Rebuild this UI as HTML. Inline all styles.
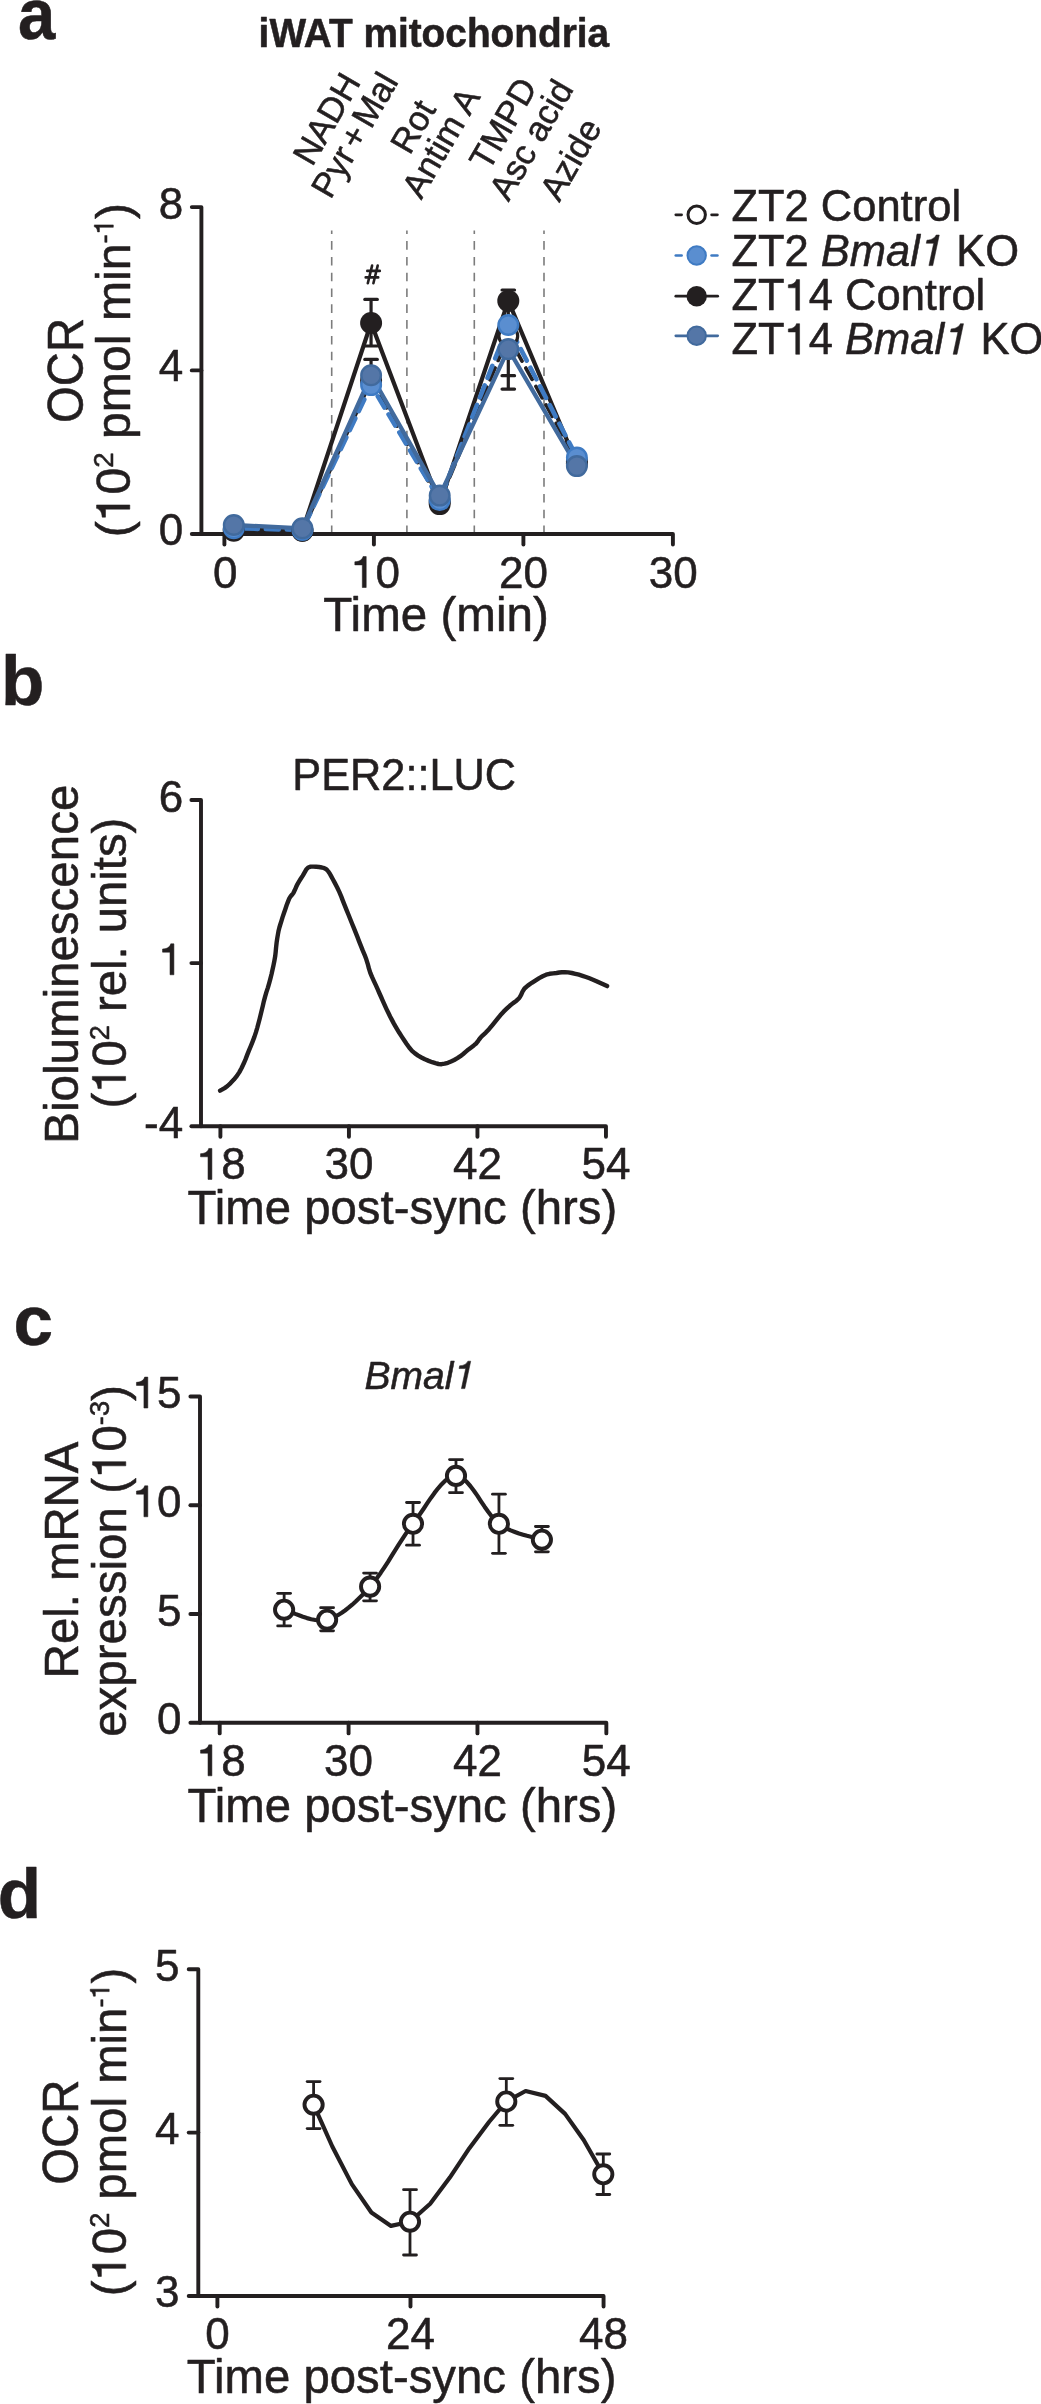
<!DOCTYPE html>
<html><head><meta charset="utf-8"><style>
html,body{margin:0;padding:0;background:#fff;}
svg{display:block;will-change:transform;}
text{font-family:"Liberation Sans",sans-serif;fill:#231f20;stroke:#231f20;stroke-width:0.55px;stroke-linejoin:round;}
.g1{fill-opacity:0;stroke-opacity:0;}
</style></head><body>
<svg width="1041" height="2404" viewBox="0 0 1041 2404">
<rect width="1041" height="2404" fill="#fff"/>
<text transform="translate(18.00,39.30) scale(0.944,1.015)" font-size="71" font-weight="bold">a</text>
<text transform="translate(258.60,46.90) scale(1,1.065)" font-size="38.5" font-weight="bold" textLength="350.5" lengthAdjust="spacingAndGlyphs">iWAT mitochondria</text>
<line x1="331.70" y1="230.40" x2="331.70" y2="533.00" stroke="#7c7c7c" stroke-width="1.6" stroke-dasharray="8.6 7.2" stroke-dashoffset="5.1"/>
<line x1="406.90" y1="230.40" x2="406.90" y2="533.00" stroke="#7c7c7c" stroke-width="1.6" stroke-dasharray="8.6 7.2" stroke-dashoffset="5.1"/>
<line x1="474.30" y1="230.40" x2="474.30" y2="533.00" stroke="#7c7c7c" stroke-width="1.6" stroke-dasharray="8.6 7.2" stroke-dashoffset="5.1"/>
<line x1="544.00" y1="230.40" x2="544.00" y2="533.00" stroke="#7c7c7c" stroke-width="1.6" stroke-dasharray="8.6 7.2" stroke-dashoffset="5.1"/>
<path d="M191.80,207.10 L201.40,207.10 L201.40,534.00 L672.90,534.00 L672.90,544.60" fill="none" stroke="#231f20" stroke-width="3.9" stroke-linejoin="round" stroke-linecap="round" />
<path d="M191.80,534.00 L201.40,534.00" fill="none" stroke="#231f20" stroke-width="3.9" stroke-linejoin="round" stroke-linecap="round" />
<path d="M191.80,370.40 L201.40,370.40" fill="none" stroke="#231f20" stroke-width="3.9" stroke-linejoin="round" stroke-linecap="round" />
<path d="M224.40,534.00 L224.40,544.60" fill="none" stroke="#231f20" stroke-width="3.9" stroke-linejoin="round" stroke-linecap="round" />
<path d="M373.90,534.00 L373.90,544.60" fill="none" stroke="#231f20" stroke-width="3.9" stroke-linejoin="round" stroke-linecap="round" />
<path d="M523.40,534.00 L523.40,544.60" fill="none" stroke="#231f20" stroke-width="3.9" stroke-linejoin="round" stroke-linecap="round" />
<text transform="translate(183.20,218.98)" font-size="44" text-anchor="end">8</text>
<text transform="translate(183.20,381.48)" font-size="44" text-anchor="end">4</text>
<text transform="translate(183.20,545.08)" font-size="44" text-anchor="end">0</text>
<text transform="translate(225.20,587.50)" font-size="44" text-anchor="middle">0</text>
<text transform="translate(375.50,587.50)" font-size="44" text-anchor="middle"><tspan class="g1">0</tspan>0</text>
<text transform="translate(523.40,587.50)" font-size="44" text-anchor="middle">20</text>
<text transform="translate(673.30,587.50)" font-size="44" text-anchor="middle">30</text>
<text transform="translate(323.30,630.90) scale(1,1.025)" font-size="47.6">Time (min)</text>
<text transform="translate(82.90,370.50) rotate(-90) scale(1,1.04)" font-size="47.3" text-anchor="middle">OCR</text>
<text transform="translate(129.80,370.10) rotate(-90)" font-size="47.3" text-anchor="middle" textLength="334.5" lengthAdjust="spacingAndGlyphs">(<tspan class="g1">0</tspan>0<tspan font-size="27" dy="-16.5">2</tspan><tspan dy="16.5"> pmol min</tspan><tspan font-size="27" dy="-16.5">-<tspan class="g1">0</tspan></tspan><tspan dy="16.5">)</tspan></text>
<text transform="translate(336.8,124.7) rotate(-60) scale(1,1.0)" font-size="34.8" text-anchor="middle"><tspan x="0" y="0.00">NADH</tspan><tspan x="0" y="32.30" word-spacing="-5.4">Pyr + Mal</tspan></text>
<text transform="translate(423.2,132.5) rotate(-60) scale(1,1.0)" font-size="34.8" text-anchor="middle"><tspan x="0" y="0.00">Rot</tspan><tspan x="0" y="32.30">Antim A</tspan></text>
<text transform="translate(513.5,129.5) rotate(-60) scale(1,1.0)" font-size="34.8" text-anchor="middle"><tspan x="0" y="0.00">TMPD</tspan><tspan x="0" y="32.30">Asc acid</tspan></text>
<text transform="translate(580.9,165.3) rotate(-60) scale(1,1.0)" font-size="34.8" text-anchor="middle"><tspan x="0" y="0.00">Azide</tspan></text>
<polyline points="233.8,529.9 302.4,530.7 371.1,323.0 439.7,504.1 508.3,300.9 576.9,463.7" fill="none" stroke="#231f20" stroke-width="4.2" stroke-linejoin="round" stroke-linecap="round" />
<polyline points="233.8,530.7 302.4,530.7 371.1,380.6 439.7,501.3 508.3,336.0 576.9,461.2" fill="none" stroke="#231f20" stroke-width="3.7" stroke-linejoin="round" stroke-linecap="round" stroke-dasharray="13 8" stroke-dashoffset="0" stroke-linecap="butt"/>
<polyline points="233.8,528.3 302.4,529.9 371.1,385.1 439.7,500.1 508.3,325.0 576.9,457.5" fill="none" stroke="#3f7bc3" stroke-width="4.6" stroke-linejoin="round" stroke-linecap="round" stroke-dasharray="13 8" stroke-dashoffset="10" stroke-linecap="butt"/>
<polyline points="233.8,525.0 302.4,528.3 371.1,375.3 439.7,495.6 508.3,349.1 576.9,466.1" fill="none" stroke="#416a9d" stroke-width="4.3" stroke-linejoin="round" stroke-linecap="round" />
<line x1="371.06" y1="299.40" x2="371.06" y2="346.00" stroke="#231f20" stroke-width="3.2" />
<line x1="364.81" y1="299.40" x2="377.31" y2="299.40" stroke="#231f20" stroke-width="3.2" stroke-linecap="round"/>
<line x1="364.81" y1="346.00" x2="377.31" y2="346.00" stroke="#231f20" stroke-width="3.2" stroke-linecap="round"/>
<line x1="508.30" y1="290.00" x2="508.30" y2="389.10" stroke="#231f20" stroke-width="3.2" />
<line x1="502.05" y1="290.00" x2="514.55" y2="290.00" stroke="#231f20" stroke-width="3.2" stroke-linecap="round"/>
<line x1="502.05" y1="389.10" x2="514.55" y2="389.10" stroke="#231f20" stroke-width="3.2" stroke-linecap="round"/>
<line x1="502.05" y1="375.70" x2="514.55" y2="375.70" stroke="#231f20" stroke-width="3.2" stroke-linecap="round"/>
<line x1="371.06" y1="359.40" x2="371.06" y2="375.00" stroke="#231f20" stroke-width="3.2" />
<line x1="364.81" y1="359.40" x2="377.31" y2="359.40" stroke="#231f20" stroke-width="3.2" stroke-linecap="round"/>
<line x1="364.81" y1="375.00" x2="377.31" y2="375.00" stroke="#231f20" stroke-width="3.2" stroke-linecap="round"/>
<circle cx="233.8" cy="530.7" r="9.4" fill="#fff" stroke="#231f20" stroke-width="3.2"/>
<circle cx="302.4" cy="530.7" r="9.4" fill="#fff" stroke="#231f20" stroke-width="3.2"/>
<circle cx="371.1" cy="380.6" r="9.4" fill="#fff" stroke="#231f20" stroke-width="3.2"/>
<circle cx="439.7" cy="501.3" r="9.4" fill="#fff" stroke="#231f20" stroke-width="3.2"/>
<circle cx="508.3" cy="336.0" r="9.4" fill="#fff" stroke="#231f20" stroke-width="3.2"/>
<circle cx="576.9" cy="461.2" r="9.4" fill="#fff" stroke="#231f20" stroke-width="3.2"/>
<circle cx="233.8" cy="529.9" r="11" fill="#231f20"/>
<circle cx="302.4" cy="530.7" r="11" fill="#231f20"/>
<circle cx="371.1" cy="323.0" r="11" fill="#231f20"/>
<circle cx="439.7" cy="504.1" r="11" fill="#231f20"/>
<circle cx="508.3" cy="300.9" r="11" fill="#231f20"/>
<circle cx="576.9" cy="463.7" r="11" fill="#231f20"/>
<circle cx="233.8" cy="528.3" r="9.8" fill="#5a8ed0" stroke="#3f7bc3" stroke-width="2.4"/>
<circle cx="302.4" cy="529.9" r="9.8" fill="#5a8ed0" stroke="#3f7bc3" stroke-width="2.4"/>
<circle cx="371.1" cy="385.1" r="9.8" fill="#5a8ed0" stroke="#3f7bc3" stroke-width="2.4"/>
<circle cx="439.7" cy="500.1" r="9.8" fill="#5a8ed0" stroke="#3f7bc3" stroke-width="2.4"/>
<circle cx="508.3" cy="325.0" r="9.8" fill="#5a8ed0" stroke="#3f7bc3" stroke-width="2.4"/>
<circle cx="576.9" cy="457.5" r="9.8" fill="#5a8ed0" stroke="#3f7bc3" stroke-width="2.4"/>
<circle cx="233.8" cy="525.0" r="9.8" fill="#5476a7" stroke="#416a9d" stroke-width="2.4"/>
<circle cx="302.4" cy="528.3" r="9.8" fill="#5476a7" stroke="#416a9d" stroke-width="2.4"/>
<circle cx="371.1" cy="375.3" r="9.8" fill="#5476a7" stroke="#416a9d" stroke-width="2.4"/>
<circle cx="439.7" cy="495.6" r="9.8" fill="#5476a7" stroke="#416a9d" stroke-width="2.4"/>
<circle cx="508.3" cy="349.1" r="9.8" fill="#5476a7" stroke="#416a9d" stroke-width="2.4"/>
<circle cx="576.9" cy="466.1" r="9.8" fill="#5476a7" stroke="#416a9d" stroke-width="2.4"/>
<path d="M372.1,265.6 L367.8,283.3 M377.7,265.6 L373.4,283.3 M367.3,270.9 L379.8,270.9 M365.7,277.4 L378.2,277.4" fill="none" stroke="#231f20" stroke-width="2.6" stroke-linejoin="round" stroke-linecap="round" stroke-linecap="butt"/>
<text transform="translate(731.40,221.40)" font-size="43.5">ZT2 Control</text>
<line x1="675.80" y1="214.80" x2="681.60" y2="214.80" stroke="#231f20" stroke-width="2.7" stroke-linecap="round"/>
<line x1="711.60" y1="214.80" x2="717.40" y2="214.80" stroke="#231f20" stroke-width="2.7" stroke-linecap="round"/>
<circle cx="696.7" cy="214.8" r="8.7" fill="#fff" stroke="#231f20" stroke-width="3"/>
<text transform="translate(731.40,265.60)" font-size="43.5">ZT2 <tspan font-style="italic">Bmal<tspan class="g1">0</tspan></tspan> KO</text>
<line x1="675.80" y1="255.50" x2="681.60" y2="255.50" stroke="#3f7bc3" stroke-width="2.7" stroke-linecap="round"/>
<line x1="711.60" y1="255.50" x2="717.40" y2="255.50" stroke="#3f7bc3" stroke-width="2.7" stroke-linecap="round"/>
<circle cx="696.7" cy="255.5" r="9.2" fill="#5a8ed0" stroke="#3f7bc3" stroke-width="2"/>
<text transform="translate(731.40,310.20)" font-size="43.5">ZT<tspan class="g1">0</tspan>4 Control</text>
<line x1="675.80" y1="296.20" x2="717.70" y2="296.20" stroke="#231f20" stroke-width="2.7" stroke-linecap="round"/>
<circle cx="696.7" cy="296.2" r="10.2" fill="#231f20"/>
<text transform="translate(731.40,354.30)" font-size="43.5">ZT<tspan class="g1">0</tspan>4 <tspan font-style="italic">Bmal<tspan class="g1">0</tspan></tspan> KO</text>
<line x1="675.80" y1="335.80" x2="717.70" y2="335.80" stroke="#416a9d" stroke-width="2.7" stroke-linecap="round"/>
<circle cx="696.7" cy="335.8" r="9.2" fill="#5476a7" stroke="#416a9d" stroke-width="2"/>
<text transform="translate(1.00,705.10)" font-size="71" font-weight="bold">b</text>
<path d="M191.40,800.00 L201.00,800.00 L201.00,1126.20 L605.96,1126.20 L605.96,1136.80" fill="none" stroke="#231f20" stroke-width="3.9" stroke-linejoin="round" stroke-linecap="round" />
<path d="M191.40,1126.20 L201.00,1126.20" fill="none" stroke="#231f20" stroke-width="3.9" stroke-linejoin="round" stroke-linecap="round" />
<path d="M191.40,963.10 L201.00,963.10" fill="none" stroke="#231f20" stroke-width="3.9" stroke-linejoin="round" stroke-linecap="round" />
<path d="M220.40,1126.20 L220.40,1136.80" fill="none" stroke="#231f20" stroke-width="3.9" stroke-linejoin="round" stroke-linecap="round" />
<path d="M348.92,1126.20 L348.92,1136.80" fill="none" stroke="#231f20" stroke-width="3.9" stroke-linejoin="round" stroke-linecap="round" />
<path d="M477.44,1126.20 L477.44,1136.80" fill="none" stroke="#231f20" stroke-width="3.9" stroke-linejoin="round" stroke-linecap="round" />
<text transform="translate(183.20,811.88)" font-size="44" text-anchor="end">6</text>
<text transform="translate(183.20,974.78)" font-size="44" text-anchor="end"><tspan class="g1">0</tspan></text>
<text transform="translate(183.20,1137.68)" font-size="44" text-anchor="end">-4</text>
<text transform="translate(221.20,1179.40)" font-size="44" text-anchor="middle"><tspan class="g1">0</tspan>8</text>
<text transform="translate(348.92,1179.40)" font-size="44" text-anchor="middle">30</text>
<text transform="translate(477.44,1179.40)" font-size="44" text-anchor="middle">42</text>
<text transform="translate(605.96,1179.40)" font-size="44" text-anchor="middle">54</text>
<text transform="translate(187.60,1224.20) scale(1,1.025)" font-size="47.35">Time post-sync (hrs)</text>
<text transform="translate(404.20,790.10) scale(1,1.03)" font-size="43.3" text-anchor="middle">PER2::LUC</text>
<text transform="translate(78.00,964.20) rotate(-90)" font-size="47.5" text-anchor="middle">Bioluminescence</text>
<text transform="translate(125.60,963.10) rotate(-90)" font-size="47.3" text-anchor="middle" textLength="290.7" lengthAdjust="spacingAndGlyphs">(<tspan class="g1">0</tspan>0<tspan font-size="27" dy="-16.5">2</tspan><tspan dy="16.5"> rel. units)</tspan></text>
<polyline points="220.1,1090.7 221.9,1089.7 224.6,1088.1 227.5,1086.0 230.6,1083.1 233.9,1079.6 236.9,1075.9 239.4,1072.1 241.6,1068.0 243.6,1063.8 245.5,1059.4 247.2,1054.9 249.0,1050.4 250.9,1045.9 252.7,1041.4 254.4,1036.9 255.9,1032.4 257.2,1028.0 258.4,1023.5 259.6,1019.0 260.7,1014.5 261.8,1010.0 262.9,1005.5 263.9,1001.1 265.1,996.6 266.4,992.1 267.9,987.6 269.2,983.1 270.4,978.6 271.5,974.2 272.5,969.7 273.5,965.2 274.4,960.7 275.2,956.2 275.7,951.7 276.1,947.2 276.6,942.8 277.2,938.6 277.9,934.5 278.6,930.7 279.4,927.5 280.3,924.5 281.3,921.3 282.5,917.4 283.9,913.2 285.3,909.2 286.6,905.3 288.0,901.6 289.3,898.4 290.7,896.3 292.0,894.8 293.4,893.0 294.7,890.3 296.0,887.3 297.4,884.3 299.1,881.4 300.9,878.5 302.8,875.6 304.5,872.6 306.2,869.6 308.2,867.5 310.7,866.6 313.4,866.6 316.2,866.8 319.0,867.0 321.9,867.5 324.3,868.2 325.9,869.0 327.1,870.0 328.3,871.5 329.7,873.5 331.0,875.9 332.7,879.0 334.8,882.9 337.2,887.5 339.4,892.1 341.3,896.6 343.0,901.1 344.8,905.6 346.6,910.1 348.4,914.5 350.2,919.0 352.0,923.5 353.8,927.9 355.6,932.4 357.4,936.9 359.1,941.4 360.9,945.9 362.7,950.4 364.6,954.8 366.3,959.3 367.7,963.8 368.9,968.4 370.3,972.8 372.0,976.9 373.8,980.9 375.7,984.9 377.5,988.9 379.3,993.0 381.1,997.0 382.9,1001.1 384.7,1005.2 386.5,1009.1 388.3,1012.8 390.1,1016.5 391.9,1019.9 393.6,1023.1 395.3,1026.1 397.2,1029.3 399.3,1032.8 401.6,1036.4 404.0,1040.0 406.5,1043.7 409.2,1047.5 412.0,1050.8 415.0,1053.4 418.1,1055.6 421.4,1057.5 424.9,1059.3 428.7,1060.9 432.2,1062.2 435.4,1063.2 438.5,1064.0 441.6,1064.2 444.7,1063.7 447.9,1062.8 451.0,1061.5 454.2,1060.0 457.4,1058.2 460.4,1056.2 463.2,1054.0 465.9,1051.7 468.5,1049.4 471.2,1047.4 473.8,1045.4 476.1,1043.5 477.6,1041.7 478.8,1039.9 480.4,1037.8 482.8,1035.3 485.8,1032.6 489.0,1029.2 492.6,1024.8 496.6,1019.8 500.3,1015.3 503.6,1011.7 506.7,1008.7 509.8,1005.8 513.1,1003.1 516.5,1000.7 519.3,998.0 521.1,994.9 522.5,991.6 524.5,988.5 527.8,985.6 531.8,982.8 535.7,980.3 539.2,978.1 542.7,976.2 546.1,974.7 549.6,973.8 553.2,973.4 556.5,973.0 559.3,972.5 561.9,972.2 564.8,972.1 568.2,972.4 571.8,973.0 575.4,973.8 578.9,974.7 582.5,975.8 586.0,977.0 589.5,978.3 593.0,979.7 596.5,981.2 600.4,983.0 604.3,984.8 607.1,986.1" fill="none" stroke="#231f20" stroke-width="4.4" stroke-linejoin="round" stroke-linecap="round" />
<text transform="translate(13.60,1345.30)" font-size="71" font-weight="bold">c</text>
<path d="M190.40,1396.55 L200.00,1396.55 L200.00,1722.80 L606.34,1722.80 L606.34,1733.40" fill="none" stroke="#231f20" stroke-width="3.9" stroke-linejoin="round" stroke-linecap="round" />
<path d="M190.40,1722.80 L200.00,1722.80" fill="none" stroke="#231f20" stroke-width="3.9" stroke-linejoin="round" stroke-linecap="round" />
<path d="M190.40,1505.30 L200.00,1505.30" fill="none" stroke="#231f20" stroke-width="3.9" stroke-linejoin="round" stroke-linecap="round" />
<path d="M190.40,1614.05 L200.00,1614.05" fill="none" stroke="#231f20" stroke-width="3.9" stroke-linejoin="round" stroke-linecap="round" />
<path d="M219.70,1722.80 L219.70,1733.40" fill="none" stroke="#231f20" stroke-width="3.9" stroke-linejoin="round" stroke-linecap="round" />
<path d="M348.58,1722.80 L348.58,1733.40" fill="none" stroke="#231f20" stroke-width="3.9" stroke-linejoin="round" stroke-linecap="round" />
<path d="M477.46,1722.80 L477.46,1733.40" fill="none" stroke="#231f20" stroke-width="3.9" stroke-linejoin="round" stroke-linecap="round" />
<text transform="translate(181.60,1408.03)" font-size="44" text-anchor="end"><tspan class="g1">0</tspan>5</text>
<text transform="translate(181.60,1516.78)" font-size="44" text-anchor="end"><tspan class="g1">0</tspan>0</text>
<text transform="translate(181.60,1625.53)" font-size="44" text-anchor="end">5</text>
<text transform="translate(181.60,1734.28)" font-size="44" text-anchor="end">0</text>
<text transform="translate(221.20,1775.80)" font-size="44" text-anchor="middle"><tspan class="g1">0</tspan>8</text>
<text transform="translate(348.58,1775.80)" font-size="44" text-anchor="middle">30</text>
<text transform="translate(477.46,1775.80)" font-size="44" text-anchor="middle">42</text>
<text transform="translate(606.34,1775.80)" font-size="44" text-anchor="middle">54</text>
<text transform="translate(187.60,1821.90) scale(1,1.025)" font-size="47.35">Time post-sync (hrs)</text>
<text transform="translate(364.50,1388.60)" font-size="39" font-style="italic">Bmal<tspan class="g1">0</tspan></text>
<text transform="translate(77.80,1559.90) rotate(-90)" font-size="47.3" text-anchor="middle">Rel. mRNA</text>
<text transform="translate(125.80,1561.00) rotate(-90)" font-size="47.3" text-anchor="middle" textLength="351.7" lengthAdjust="spacingAndGlyphs">expression (<tspan class="g1">0</tspan>0<tspan font-size="27" dy="-16.5">-3</tspan><tspan dy="16.5">)</tspan></text>
<polyline points="284.1,1609.7 286.2,1610.3 288.8,1611.3 291.9,1612.5 295.3,1613.9 299.0,1615.3 302.9,1616.8 307.0,1618.1 311.2,1619.2 315.4,1620.0 319.4,1620.4 323.4,1620.3 327.1,1619.7 330.7,1618.6 334.3,1617.0 337.8,1615.2 341.4,1613.0 345.0,1610.5 348.6,1607.7 352.2,1604.7 355.7,1601.5 359.3,1598.0 362.9,1594.4 366.5,1590.6 370.1,1586.6 373.6,1582.4 377.2,1577.7 380.8,1572.7 384.4,1567.3 388.0,1561.8 391.5,1556.1 395.1,1550.4 398.7,1544.7 402.3,1539.1 405.9,1533.7 409.4,1528.6 413.0,1523.8 416.6,1519.0 420.2,1513.8 423.8,1508.5 427.3,1503.2 430.9,1497.9 434.5,1492.9 438.1,1488.3 441.7,1484.2 445.2,1480.8 448.8,1478.2 452.4,1476.5 456.0,1475.9 459.6,1476.7 463.1,1478.7 466.7,1481.9 470.3,1486.0 473.9,1490.7 477.5,1495.9 481.0,1501.3 484.6,1506.7 488.2,1511.8 491.8,1516.6 495.4,1520.6 498.9,1523.8 502.7,1526.3 506.6,1528.5 510.7,1530.4 514.9,1532.0 519.0,1533.5 523.1,1534.7 527.0,1535.8 530.8,1536.7 534.2,1537.6 537.2,1538.3 539.8,1539.0 541.9,1539.7" fill="none" stroke="#231f20" stroke-width="4.2" stroke-linejoin="round" stroke-linecap="round" />
<line x1="284.14" y1="1593.30" x2="284.14" y2="1625.90" stroke="#231f20" stroke-width="2.8" />
<line x1="277.69" y1="1593.30" x2="290.59" y2="1593.30" stroke="#231f20" stroke-width="2.8" stroke-linecap="round"/>
<line x1="277.69" y1="1625.90" x2="290.59" y2="1625.90" stroke="#231f20" stroke-width="2.8" stroke-linecap="round"/>
<line x1="327.10" y1="1607.70" x2="327.10" y2="1630.80" stroke="#231f20" stroke-width="2.8" />
<line x1="320.65" y1="1607.70" x2="333.55" y2="1607.70" stroke="#231f20" stroke-width="2.8" stroke-linecap="round"/>
<line x1="320.65" y1="1630.80" x2="333.55" y2="1630.80" stroke="#231f20" stroke-width="2.8" stroke-linecap="round"/>
<line x1="370.06" y1="1573.10" x2="370.06" y2="1600.80" stroke="#231f20" stroke-width="2.8" />
<line x1="363.61" y1="1573.10" x2="376.51" y2="1573.10" stroke="#231f20" stroke-width="2.8" stroke-linecap="round"/>
<line x1="363.61" y1="1600.80" x2="376.51" y2="1600.80" stroke="#231f20" stroke-width="2.8" stroke-linecap="round"/>
<line x1="413.02" y1="1502.50" x2="413.02" y2="1545.20" stroke="#231f20" stroke-width="2.8" />
<line x1="406.57" y1="1502.50" x2="419.47" y2="1502.50" stroke="#231f20" stroke-width="2.8" stroke-linecap="round"/>
<line x1="406.57" y1="1545.20" x2="419.47" y2="1545.20" stroke="#231f20" stroke-width="2.8" stroke-linecap="round"/>
<line x1="455.98" y1="1459.60" x2="455.98" y2="1492.70" stroke="#231f20" stroke-width="2.8" />
<line x1="449.53" y1="1459.60" x2="462.43" y2="1459.60" stroke="#231f20" stroke-width="2.8" stroke-linecap="round"/>
<line x1="449.53" y1="1492.70" x2="462.43" y2="1492.70" stroke="#231f20" stroke-width="2.8" stroke-linecap="round"/>
<line x1="498.94" y1="1494.20" x2="498.94" y2="1553.30" stroke="#231f20" stroke-width="2.8" />
<line x1="492.49" y1="1494.20" x2="505.39" y2="1494.20" stroke="#231f20" stroke-width="2.8" stroke-linecap="round"/>
<line x1="492.49" y1="1553.30" x2="505.39" y2="1553.30" stroke="#231f20" stroke-width="2.8" stroke-linecap="round"/>
<line x1="541.90" y1="1526.50" x2="541.90" y2="1551.80" stroke="#231f20" stroke-width="2.8" />
<line x1="535.45" y1="1526.50" x2="548.35" y2="1526.50" stroke="#231f20" stroke-width="2.8" stroke-linecap="round"/>
<line x1="535.45" y1="1551.80" x2="548.35" y2="1551.80" stroke="#231f20" stroke-width="2.8" stroke-linecap="round"/>
<circle cx="284.1" cy="1609.7" r="9.1" fill="#fff" stroke="#231f20" stroke-width="3.9"/>
<circle cx="327.1" cy="1619.7" r="9.1" fill="#fff" stroke="#231f20" stroke-width="3.9"/>
<circle cx="370.1" cy="1586.6" r="9.1" fill="#fff" stroke="#231f20" stroke-width="3.9"/>
<circle cx="413.0" cy="1523.8" r="9.1" fill="#fff" stroke="#231f20" stroke-width="3.9"/>
<circle cx="456.0" cy="1475.9" r="9.1" fill="#fff" stroke="#231f20" stroke-width="3.9"/>
<circle cx="498.9" cy="1523.8" r="9.1" fill="#fff" stroke="#231f20" stroke-width="3.9"/>
<circle cx="541.9" cy="1539.7" r="9.1" fill="#fff" stroke="#231f20" stroke-width="3.9"/>
<text transform="translate(-2.20,1918.10)" font-size="71" font-weight="bold">d</text>
<path d="M188.70,1969.20 L198.30,1969.20 L198.30,2296.00 L603.56,2296.00 L603.56,2306.60" fill="none" stroke="#231f20" stroke-width="3.9" stroke-linejoin="round" stroke-linecap="round" />
<path d="M188.70,2296.00 L198.30,2296.00" fill="none" stroke="#231f20" stroke-width="3.9" stroke-linejoin="round" stroke-linecap="round" />
<path d="M188.70,2132.60 L198.30,2132.60" fill="none" stroke="#231f20" stroke-width="3.9" stroke-linejoin="round" stroke-linecap="round" />
<path d="M217.40,2296.00 L217.40,2306.60" fill="none" stroke="#231f20" stroke-width="3.9" stroke-linejoin="round" stroke-linecap="round" />
<path d="M410.48,2296.00 L410.48,2306.60" fill="none" stroke="#231f20" stroke-width="3.9" stroke-linejoin="round" stroke-linecap="round" />
<text transform="translate(179.60,1980.68)" font-size="44" text-anchor="end">5</text>
<text transform="translate(179.60,2144.08)" font-size="44" text-anchor="end">4</text>
<text transform="translate(179.60,2307.48)" font-size="44" text-anchor="end">3</text>
<text transform="translate(217.40,2348.80)" font-size="44" text-anchor="middle">0</text>
<text transform="translate(410.48,2348.80)" font-size="44" text-anchor="middle">24</text>
<text transform="translate(603.56,2348.80)" font-size="44" text-anchor="middle">48</text>
<text transform="translate(186.80,2392.70) scale(1,1.025)" font-size="47.35">Time post-sync (hrs)</text>
<text transform="translate(77.90,2132.20) rotate(-90) scale(1,1.04)" font-size="47.3" text-anchor="middle">OCR</text>
<text transform="translate(125.70,2132.00) rotate(-90)" font-size="47.3" text-anchor="middle" textLength="328.6" lengthAdjust="spacingAndGlyphs">(<tspan class="g1">0</tspan>0<tspan font-size="27" dy="-16.5">2</tspan><tspan dy="16.5"> pmol min</tspan><tspan font-size="27" dy="-16.5">-<tspan class="g1">0</tspan></tspan><tspan dy="16.5">)</tspan></text>
<polyline points="313.6,2104.7 332.3,2146.5 351.8,2184.1 371.4,2212.5 391.0,2225.9 410.0,2221.7 430.2,2203.7 449.8,2177.6 469.4,2148.2 489.0,2122.0 506.3,2101.5 525.6,2091.0 545.5,2095.9 565.1,2113.9 583.7,2140.0 603.3,2174.3" fill="none" stroke="#231f20" stroke-width="4.2" stroke-linejoin="round" stroke-linecap="round" />
<line x1="313.60" y1="2081.60" x2="313.60" y2="2128.60" stroke="#231f20" stroke-width="2.8" />
<line x1="307.15" y1="2081.60" x2="320.05" y2="2081.60" stroke="#231f20" stroke-width="2.8" stroke-linecap="round"/>
<line x1="307.15" y1="2128.60" x2="320.05" y2="2128.60" stroke="#231f20" stroke-width="2.8" stroke-linecap="round"/>
<line x1="410.00" y1="2189.70" x2="410.00" y2="2255.00" stroke="#231f20" stroke-width="2.8" />
<line x1="403.55" y1="2189.70" x2="416.45" y2="2189.70" stroke="#231f20" stroke-width="2.8" stroke-linecap="round"/>
<line x1="403.55" y1="2255.00" x2="416.45" y2="2255.00" stroke="#231f20" stroke-width="2.8" stroke-linecap="round"/>
<line x1="506.30" y1="2078.60" x2="506.30" y2="2125.30" stroke="#231f20" stroke-width="2.8" />
<line x1="499.85" y1="2078.60" x2="512.75" y2="2078.60" stroke="#231f20" stroke-width="2.8" stroke-linecap="round"/>
<line x1="499.85" y1="2125.30" x2="512.75" y2="2125.30" stroke="#231f20" stroke-width="2.8" stroke-linecap="round"/>
<line x1="603.30" y1="2154.00" x2="603.30" y2="2194.50" stroke="#231f20" stroke-width="2.8" />
<line x1="596.85" y1="2154.00" x2="609.75" y2="2154.00" stroke="#231f20" stroke-width="2.8" stroke-linecap="round"/>
<line x1="596.85" y1="2194.50" x2="609.75" y2="2194.50" stroke="#231f20" stroke-width="2.8" stroke-linecap="round"/>
<circle cx="313.6" cy="2104.7" r="9.1" fill="#fff" stroke="#231f20" stroke-width="3.9"/>
<circle cx="410.0" cy="2221.7" r="9.1" fill="#fff" stroke="#231f20" stroke-width="3.9"/>
<circle cx="506.3" cy="2101.5" r="9.1" fill="#fff" stroke="#231f20" stroke-width="3.9"/>
<circle cx="603.3" cy="2174.3" r="9.1" fill="#fff" stroke="#231f20" stroke-width="3.9"/>
<path transform="translate(375.50,587.50) translate(-24.484,0.000) scale(44.000,-44.000)" d="M0.3450,0.0000 L0.3450,0.7030 L0.2730,0.7030 C0.2560,0.6400 0.2060,0.5900 0.0870,0.5840 L0.0870,0.5140 L0.2570,0.5140 L0.2570,0.0000 Z" fill="#231f20" stroke="#231f20" stroke-width="0.55" vector-effect="non-scaling-stroke" stroke-linejoin="round"/>
<path transform="translate(129.80,370.10) rotate(-90) translate(-151.183,0.000) scale(47.300,-47.300)" d="M0.3450,0.0000 L0.3450,0.7030 L0.2730,0.7030 C0.2560,0.6400 0.2060,0.5900 0.0870,0.5840 L0.0870,0.5140 L0.2570,0.5140 L0.2570,0.0000 Z" fill="#231f20" stroke="#231f20" stroke-width="0.55" vector-effect="non-scaling-stroke" stroke-linejoin="round"/>
<path transform="translate(129.80,370.10) rotate(-90) translate(135.865,-16.500) scale(27.000,-27.000)" d="M0.3450,0.0000 L0.3450,0.7030 L0.2730,0.7030 C0.2560,0.6400 0.2060,0.5900 0.0870,0.5840 L0.0870,0.5140 L0.2570,0.5140 L0.2570,0.0000 Z" fill="#231f20" stroke="#231f20" stroke-width="0.55" vector-effect="non-scaling-stroke" stroke-linejoin="round"/>
<path transform="translate(731.40,265.60) translate(186.356,0.000) scale(43.500,-43.500)" d="M0.3450,0.0000 L0.4944,0.7030 L0.4224,0.7030 C0.3920,0.6400 0.3314,0.5900 0.2111,0.5840 L0.1963,0.5140 L0.3663,0.5140 L0.2570,0.0000 Z" fill="#231f20" stroke="#231f20" stroke-width="0.55" vector-effect="non-scaling-stroke" stroke-linejoin="round"/>
<path transform="translate(731.40,310.20) translate(53.156,0.000) scale(43.500,-43.500)" d="M0.3450,0.0000 L0.3450,0.7030 L0.2730,0.7030 C0.2560,0.6400 0.2060,0.5900 0.0870,0.5840 L0.0870,0.5140 L0.2570,0.5140 L0.2570,0.0000 Z" fill="#231f20" stroke="#231f20" stroke-width="0.55" vector-effect="non-scaling-stroke" stroke-linejoin="round"/>
<path transform="translate(731.40,354.30) translate(53.156,0.000) scale(43.500,-43.500)" d="M0.3450,0.0000 L0.3450,0.7030 L0.2730,0.7030 C0.2560,0.6400 0.2060,0.5900 0.0870,0.5840 L0.0870,0.5140 L0.2570,0.5140 L0.2570,0.0000 Z" fill="#231f20" stroke="#231f20" stroke-width="0.55" vector-effect="non-scaling-stroke" stroke-linejoin="round"/>
<path transform="translate(731.40,354.30) translate(210.575,0.000) scale(43.500,-43.500)" d="M0.3450,0.0000 L0.4944,0.7030 L0.4224,0.7030 C0.3920,0.6400 0.3314,0.5900 0.2111,0.5840 L0.1963,0.5140 L0.3663,0.5140 L0.2570,0.0000 Z" fill="#231f20" stroke="#231f20" stroke-width="0.55" vector-effect="non-scaling-stroke" stroke-linejoin="round"/>
<path transform="translate(183.20,974.78) translate(-24.484,0.000) scale(44.000,-44.000)" d="M0.3450,0.0000 L0.3450,0.7030 L0.2730,0.7030 C0.2560,0.6400 0.2060,0.5900 0.0870,0.5840 L0.0870,0.5140 L0.2570,0.5140 L0.2570,0.0000 Z" fill="#231f20" stroke="#231f20" stroke-width="0.55" vector-effect="non-scaling-stroke" stroke-linejoin="round"/>
<path transform="translate(221.20,1179.40) translate(-24.484,0.000) scale(44.000,-44.000)" d="M0.3450,0.0000 L0.3450,0.7030 L0.2730,0.7030 C0.2560,0.6400 0.2060,0.5900 0.0870,0.5840 L0.0870,0.5140 L0.2570,0.5140 L0.2570,0.0000 Z" fill="#231f20" stroke="#231f20" stroke-width="0.55" vector-effect="non-scaling-stroke" stroke-linejoin="round"/>
<path transform="translate(125.60,963.10) rotate(-90) translate(-129.604,0.000) scale(47.300,-47.300)" d="M0.3450,0.0000 L0.3450,0.7030 L0.2730,0.7030 C0.2560,0.6400 0.2060,0.5900 0.0870,0.5840 L0.0870,0.5140 L0.2570,0.5140 L0.2570,0.0000 Z" fill="#231f20" stroke="#231f20" stroke-width="0.55" vector-effect="non-scaling-stroke" stroke-linejoin="round"/>
<path transform="translate(181.60,1408.03) translate(-48.969,0.000) scale(44.000,-44.000)" d="M0.3450,0.0000 L0.3450,0.7030 L0.2730,0.7030 C0.2560,0.6400 0.2060,0.5900 0.0870,0.5840 L0.0870,0.5140 L0.2570,0.5140 L0.2570,0.0000 Z" fill="#231f20" stroke="#231f20" stroke-width="0.55" vector-effect="non-scaling-stroke" stroke-linejoin="round"/>
<path transform="translate(181.60,1516.78) translate(-48.969,0.000) scale(44.000,-44.000)" d="M0.3450,0.0000 L0.3450,0.7030 L0.2730,0.7030 C0.2560,0.6400 0.2060,0.5900 0.0870,0.5840 L0.0870,0.5140 L0.2570,0.5140 L0.2570,0.0000 Z" fill="#231f20" stroke="#231f20" stroke-width="0.55" vector-effect="non-scaling-stroke" stroke-linejoin="round"/>
<path transform="translate(221.20,1775.80) translate(-24.484,0.000) scale(44.000,-44.000)" d="M0.3450,0.0000 L0.3450,0.7030 L0.2730,0.7030 C0.2560,0.6400 0.2060,0.5900 0.0870,0.5840 L0.0870,0.5140 L0.2570,0.5140 L0.2570,0.0000 Z" fill="#231f20" stroke="#231f20" stroke-width="0.55" vector-effect="non-scaling-stroke" stroke-linejoin="round"/>
<path transform="translate(364.50,1388.60) translate(86.909,0.000) scale(39.000,-39.000)" d="M0.3450,0.0000 L0.4944,0.7030 L0.4224,0.7030 C0.3920,0.6400 0.3314,0.5900 0.2111,0.5840 L0.1963,0.5140 L0.3663,0.5140 L0.2570,0.0000 Z" fill="#231f20" stroke="#231f20" stroke-width="0.55" vector-effect="non-scaling-stroke" stroke-linejoin="round"/>
<path transform="translate(125.80,1561.00) rotate(-90) translate(83.003,0.000) scale(47.300,-47.300)" d="M0.3450,0.0000 L0.3450,0.7030 L0.2730,0.7030 C0.2560,0.6400 0.2060,0.5900 0.0870,0.5840 L0.0870,0.5140 L0.2570,0.5140 L0.2570,0.0000 Z" fill="#231f20" stroke="#231f20" stroke-width="0.55" vector-effect="non-scaling-stroke" stroke-linejoin="round"/>
<path transform="translate(125.70,2132.00) rotate(-90) translate(-148.517,0.000) scale(47.300,-47.300)" d="M0.3450,0.0000 L0.3450,0.7030 L0.2730,0.7030 C0.2560,0.6400 0.2060,0.5900 0.0870,0.5840 L0.0870,0.5140 L0.2570,0.5140 L0.2570,0.0000 Z" fill="#231f20" stroke="#231f20" stroke-width="0.55" vector-effect="non-scaling-stroke" stroke-linejoin="round"/>
<path transform="translate(125.70,2132.00) rotate(-90) translate(133.469,-16.500) scale(27.000,-27.000)" d="M0.3450,0.0000 L0.3450,0.7030 L0.2730,0.7030 C0.2560,0.6400 0.2060,0.5900 0.0870,0.5840 L0.0870,0.5140 L0.2570,0.5140 L0.2570,0.0000 Z" fill="#231f20" stroke="#231f20" stroke-width="0.55" vector-effect="non-scaling-stroke" stroke-linejoin="round"/>
</svg>
</body></html>
